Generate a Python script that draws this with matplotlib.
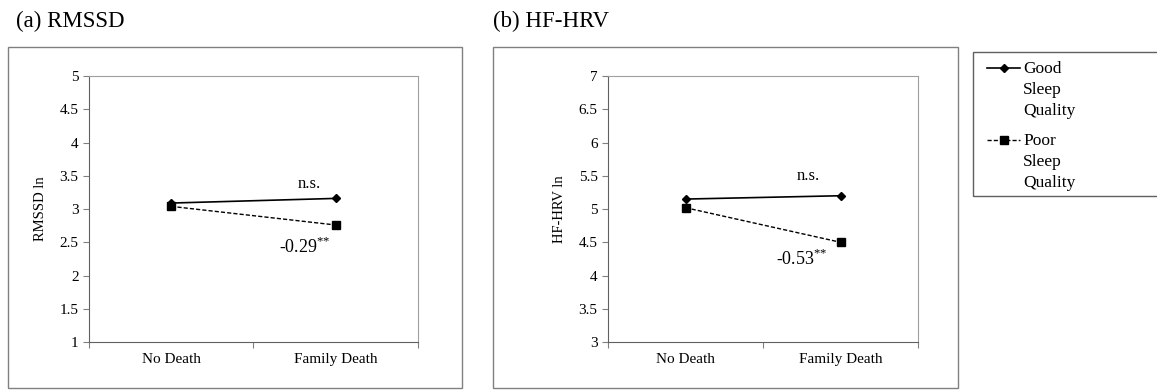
import matplotlib
matplotlib.use('Agg')
import matplotlib.pyplot as plt
from matplotlib.patches import Rectangle
from matplotlib.lines import Line2D

plt.rcParams['font.family'] = ['Liberation Serif', 'DejaVu Serif']
plt.rcParams['mathtext.fontset'] = 'custom'
plt.rcParams['mathtext.rm'] = 'Liberation Serif'

# Data
groups = ['No Death', 'Family Death']
series_names = ['Good\nSleep\nQuality', 'Poor\nSleep\nQuality']
rmssd_good = [3.09, 3.16]
rmssd_poor = [3.04, 2.76]
hf_good = [5.15, 5.20]
hf_poor = [5.02, 4.50]
rmssd_ticks = [1, 1.5, 2, 2.5, 3, 3.5, 4, 4.5, 5]
hf_ticks = [3, 3.5, 4, 4.5, 5, 5.5, 6, 6.5, 7]

fig = plt.figure(figsize=(11.57, 3.9), dpi=100)

# Outer panel frames
for x0, w in [(0.0069, 0.392), (0.426, 0.402)]:
    fig.patches.append(Rectangle((x0, 0.005), w, 0.874, transform=fig.transFigure,
                                 fill=False, edgecolor='#808080', linewidth=1.0))

fig.text(0.014, 0.945, '(a) RMSSD', fontsize=16.5, va='center')
fig.text(0.426, 0.945, '(b) HF-HRV', fontsize=16.5, va='center')

ax1 = fig.add_axes([0.0769, 0.123, 0.2844, 0.682])
ax2 = fig.add_axes([0.5255, 0.123, 0.268, 0.682])

good_style = dict(color='black', linewidth=1.2, marker='D', markersize=4)
poor_style = dict(color='black', linewidth=1.0, linestyle=(0, (3, 1.5)),
                  marker='s', markersize=6)


def draw(ax, good, poor, ticks, ylabel, ns_pos, eff_pos, eff_text):
    x = [0, 1]
    ax.plot(x, good, **good_style)
    ax.plot(x, poor, **poor_style)
    ax.set_xlim(-0.5, 1.5)
    ax.set_ylim(ticks[0], ticks[-1])
    ax.set_yticks(ticks)
    ax.set_yticklabels([f'{t:g}' for t in ticks], fontsize=11)
    ax.set_xticks([-0.5, 0.5, 1.5])
    ax.set_xticklabels([])
    ax.set_xticks(x, minor=True)
    ax.set_xticklabels(groups, minor=True, fontsize=11)
    ax.tick_params(axis='x', which='minor', length=0, pad=8)
    ax.tick_params(axis='both', which='major', direction='out', length=4,
                   color='#808080')
    ax.set_ylabel(ylabel, fontsize=10.5, labelpad=9)
    for s in ax.spines.values():
        s.set_color('#a0a0a0')
    ax.spines['left'].set_color('#606060')
    ax.spines['bottom'].set_color('#606060')
    ax.text(ns_pos[0], ns_pos[1], 'n.s.', fontsize=12, ha='center', va='center')
    ax.text(eff_pos[0], eff_pos[1], eff_text, fontsize=13, ha='center', va='center')


draw(ax1, rmssd_good, rmssd_poor, rmssd_ticks, 'RMSSD ln', (0.84, 3.37), (0.81, 2.43),
     r'-0.29$^{{*}{*}}$')
draw(ax2, hf_good, hf_poor, hf_ticks, 'HF-HRV ln', (0.79, 5.49), (0.75, 4.25),
     r'-0.53$^{{*}{*}}$')

# Legend drawn by hand so the marker sits beside the first line of each label
W, H = 1157, 390
fig.patches.append(Rectangle((973 / W, 1 - 196 / H), 200 / W, 144 / H,
                             transform=fig.transFigure, fill=False,
                             edgecolor='#606060', linewidth=1.0))
for (style, name, y) in [(good_style, series_names[0], 68),
                         (poor_style, series_names[1], 140)]:
    fy = 1 - y / H
    fig.lines.append(Line2D([987 / W, 1020 / W], [fy, fy], transform=fig.transFigure,
                            **{k: v for k, v in style.items() if k != 'marker'}))
    fig.lines.append(Line2D([1003.5 / W], [fy], transform=fig.transFigure,
                            color='black', marker=style['marker'],
                            markersize=style['markersize'], linestyle='none'))
    fig.text(1023 / W, fy + 7 / H, name, fontsize=12.5, va='top', ha='left',
             linespacing=1.42)

fig.savefig('out.png', dpi=100)
